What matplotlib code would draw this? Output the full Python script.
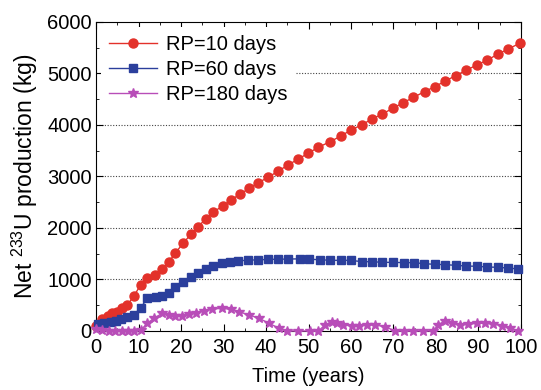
import matplotlib.pyplot as plt
from matplotlib.ticker import MultipleLocator

plt.rcParams['font.family'] = ['Liberation Sans', 'DejaVu Sans']
plt.rcParams['mathtext.fontset'] = 'custom'
plt.rcParams['mathtext.rm'] = 'Liberation Sans'

# RP = 10 days
t_red = [0, 1.5, 2.7, 3.8, 5.0, 6.2, 7.4, 8.9, 10.5, 12.1,
         13.8, 15.6, 17.2, 18.7, 20.5, 22.3, 24.0, 25.8, 27.6, 29.8,
         31.8, 33.9, 36.1, 38.2, 40.5, 42.9, 45.2, 47.6, 49.9, 52.3,
         55.1, 57.6, 60.0, 62.5, 64.9, 67.4, 69.8, 72.3, 74.7, 77.3,
         79.7, 82.2, 84.6, 87.1, 89.6, 92.1, 94.5, 97.0, 99.8]
v_red = [100, 227, 290, 343, 375, 440, 505, 680, 893, 1035,
         1087, 1198, 1346, 1520, 1703, 1877, 2025, 2175, 2310, 2427,
         2544, 2660, 2770, 2880, 2984, 3107, 3223, 3340, 3450, 3567,
         3676, 3786, 3903, 4000, 4116, 4214, 4324, 4433, 4537, 4647,
         4744, 4854, 4957, 5062, 5165, 5262, 5373, 5476, 5590]

# RP = 60 days
t_blue = [0.5, 1.9, 3.5, 4.6, 5.8, 7.4, 8.9, 10.5, 12.1, 14.0,
          15.6, 17.2, 18.7, 20.5, 22.3, 24.0, 25.8, 27.6, 29.6, 31.5,
          33.5, 35.8, 38.2, 40.5, 42.9, 45.2, 48.0, 50.2, 52.7, 55.1,
          57.6, 60.0, 62.5, 65.0, 67.4, 70.0, 72.4, 74.8, 77.2, 79.8,
          82.2, 84.6, 87.1, 89.6, 92.1, 94.5, 97.0, 99.4]
v_blue = [136, 162, 181, 200, 227, 266, 311, 453, 635, 666,
          680, 744, 849, 958, 1043, 1120, 1198, 1270, 1326, 1340,
          1359, 1379, 1379, 1392, 1392, 1398, 1400, 1392, 1385, 1372,
          1372, 1372, 1346, 1346, 1333, 1333, 1327, 1327, 1307, 1294,
          1288, 1275, 1262, 1256, 1243, 1236, 1223, 1204]

# RP = 180 days
t_mag = [0, 1.5, 3.0, 4.5, 6.0, 7.5, 9.0, 10.5, 12.1, 13.6,
         15.6, 17.2, 18.7, 20.3, 21.9, 23.5, 25.4, 27.4, 29.7, 31.7,
         33.6, 36.0, 38.4, 40.7, 43.1, 45.0, 47.5, 50.4, 52.3, 53.9,
         55.5, 56.6, 58.2, 60.2, 62.0, 63.7, 65.6, 68.0, 70.4, 72.5,
         74.7, 77.0, 79.4, 80.5, 82.1, 83.7, 85.6, 87.6, 89.6, 91.5,
         93.5, 95.5, 97.4, 99.4]
v_mag = [40, 10, 5, 0, 0, 0, 0, 19, 149, 246,
         343, 311, 291, 291, 330, 356, 395, 427, 440, 421,
         375, 311, 246, 149, 52, 0, 0, 0, 0, 117,
         181, 149, 117, 97, 105, 117, 117, 84, 0, 0,
         0, 0, 0, 117, 200, 149, 117, 130, 149, 149,
         136, 103, 52, 0]

fs = 14.5

fig = plt.figure(figsize=(5.41, 3.9), dpi=100)
ax = fig.add_axes([0.1775, 0.1513, 0.7855, 0.7923])

ax.plot(t_red, v_red, '-o', color='#e3312a', markersize=6.5, linewidth=1,
        label='RP=10 days', clip_on=False, zorder=3)
ax.plot(t_blue, v_blue, '-s', color='#2b3f9c', markersize=5.5, linewidth=1,
        label='RP=60 days', clip_on=False, zorder=3)
ax.plot(t_mag, v_mag, '-*', color='#b84db8', markersize=7.5, linewidth=1,
        label='RP=180 days', clip_on=False, zorder=3)

ax.set_xlim(0, 100)
ax.set_ylim(0, 6000)
ax.xaxis.set_major_locator(MultipleLocator(10))
ax.xaxis.set_minor_locator(MultipleLocator(5))
ax.yaxis.set_major_locator(MultipleLocator(1000))
ax.yaxis.set_minor_locator(MultipleLocator(500))
ax.tick_params(which='both', direction='in', top=True, right=True, labelsize=fs)
ax.tick_params(which='major', length=5)
ax.tick_params(which='minor', length=2.5)
ax.tick_params(axis='x', which='major', pad=5)
ax.tick_params(axis='y', which='major', pad=3)

# dotted gridlines at the inner major y ticks
for y in range(1000, 6000, 1000):
    ax.axhline(y, color='#444444', linestyle=(0, (1, 1.5)), linewidth=0.8, zorder=1)

ax.set_xlabel('Time (years)', fontsize=fs, labelpad=7)
ax.set_ylabel('Net $^{233}$U production (kg)', fontsize=16.5, labelpad=5)

leg = ax.legend(loc='upper left', fontsize=fs, handlelength=2.4,
                borderaxespad=0.25, labelspacing=0.3, handletextpad=0.4,
                fancybox=False)
leg.get_frame().set_edgecolor('none')
leg.get_frame().set_facecolor('white')
leg.get_frame().set_alpha(1)
leg.set_zorder(2)

fig.savefig('out.png', dpi=100)
